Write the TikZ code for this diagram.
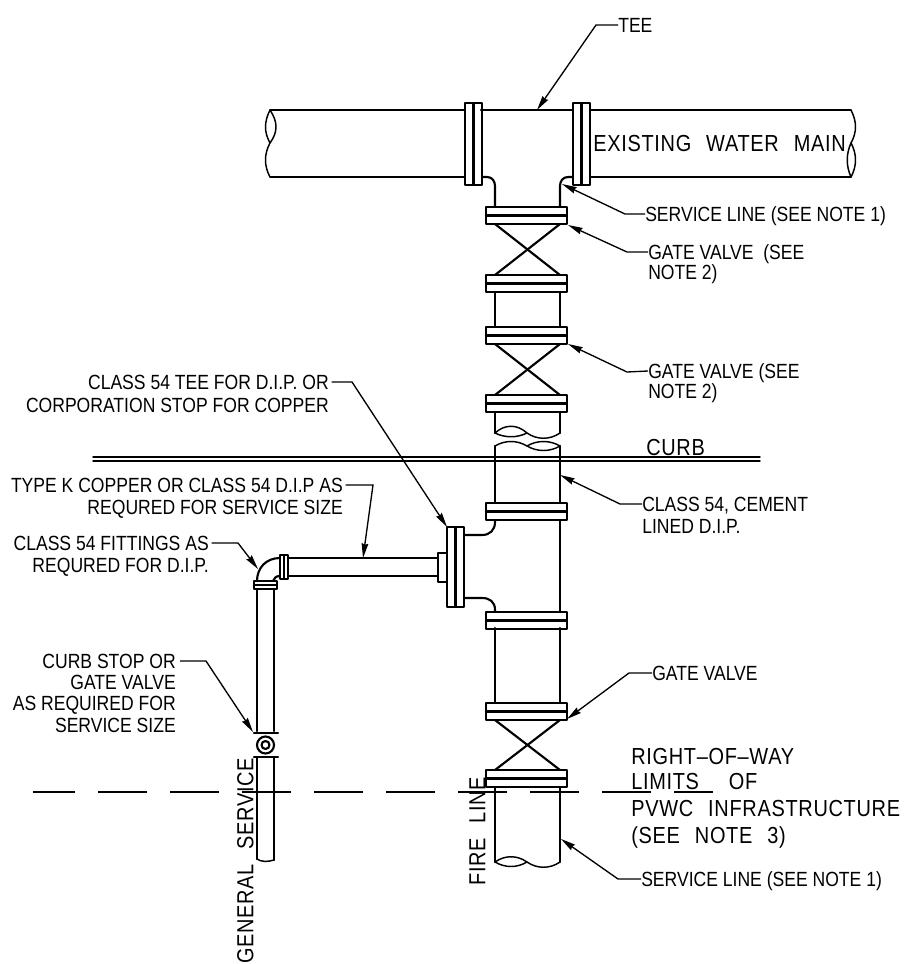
\documentclass[tikz,border=0pt]{standalone}
\usepackage{fontspec}
\usetikzlibrary{arrows.meta}
\setmainfont[FakeStretch=0.855]{Liberation Sans}
\newfontfamily\cadfont[FakeStretch=0.86,LetterSpace=3,WordSpace=2.4]{Liberation Sans}

\tikzset{
  pipe/.style={line width=1.6pt, line cap=round, line join=round},
  thin pipe/.style={line width=1.1pt, line cap=round},
  leader/.style={line width=1pt, -{Stealth[length=11pt,width=5pt,inset=1pt]}},
  note/.style={inner sep=0pt, font=\fontsize{15.4}{18}\selectfont, text height=11pt, text depth=0pt},
  cad/.style={inner sep=0pt, font=\cadfont\fontsize{17.4}{20}\selectfont, text height=12.6pt, text depth=0pt},
}

\begin{document}
\begin{tikzpicture}[x=0.75pt,y=-0.75pt]
\useasboundingbox (0,0) rectangle (909,964);

% water main
\begin{scope}
\draw[thin pipe] (270,110)--(465,110);
\draw[thin pipe] (270,177)--(465,177);
\draw[thin pipe] (590,110)--(851,110);
\draw[thin pipe] (590,177)--(851,177);
\draw[pipe] (481,110)--(573,110);

\draw[thin pipe] (270,110) .. controls (278,122) and (278,132) .. (270,143) .. controls (264,154) and (264,166) .. (270,177);
\draw[thin pipe] (270,110) .. controls (264,122) and (264,132) .. (270,143);
\draw[thin pipe] (851,110) .. controls (857,122) and (857,132) .. (851,143) .. controls (846,154) and (846,166) .. (851,177);
\draw[thin pipe] (851,143) .. controls (857,154) and (857,166) .. (851,177);

\draw[pipe] (465,103) rectangle (482,185);
\draw[pipe] (473.5,103)--(473.5,185);
\draw[pipe] (573,103) rectangle (590,185);
\draw[pipe] (581.5,103)--(581.5,185);

\draw[pipe] (482,177)--(487,177) .. controls (492,177) and (495,181) .. (495,186)--(495,207);
\draw[pipe] (573,177)--(568,177) .. controls (563,177) and (560,181) .. (560,186)--(560,207);
\end{scope}

% flanges on the fire line
\foreach \y in {207,275,327,395,503,612,703,770}
{
\draw[pipe] (486,\y) rectangle (567,\y+17);
\draw[pipe] (486,\y+8.5)--(567,\y+8.5);
}

% gate valves
\foreach \y/\z in {224/275,344/395,720/770}
{
\draw[pipe] (495,\y)--(560,\z);
\draw[pipe] (560,\y)--(495,\z);
}

% fire line
\draw[pipe] (495,292)--(495,327);
\draw[pipe] (560,292)--(560,327);
\draw[pipe] (495,412)--(495,433);
\draw[pipe] (560,412)--(560,433);
\draw[thin pipe] (495,433) .. controls (505,424) and (517,424) .. (527,433) .. controls (537,440) and (550,440) .. (560,433);
\draw[thin pipe] (495,433) .. controls (505,438) and (517,438) .. (527,433);

\draw[pipe] (495,446)--(495,503);
\draw[pipe] (560,446)--(560,503);
\draw[thin pipe] (495,446) .. controls (505,440) and (517,440) .. (527,446) .. controls (537,452) and (550,452) .. (560,446);
\draw[thin pipe] (527,446) .. controls (537,440) and (550,440) .. (560,446);

\draw[pipe] (560,520)--(560,612);
\draw[pipe] (495,520)--(495,522) .. controls (495,530) and (490,535) .. (482,535)--(464,535);
\draw[pipe] (495,612)--(495,610) .. controls (495,602) and (490,598) .. (482,598)--(464,598);
\draw[pipe] (495,628)--(495,703);
\draw[pipe] (560,628)--(560,703);
\draw[pipe] (495,787)--(495,862);
\draw[pipe] (560,787)--(560,862);
\draw[thin pipe] (495,862) .. controls (505,855) and (517,855) .. (527,862) .. controls (537,869) and (550,869) .. (560,862);
\draw[thin pipe] (495,862) .. controls (505,868) and (517,868) .. (527,862);

% curb and right of way
\draw[thin pipe] (93,457)--(760,457);
\draw[thin pipe] (93,461)--(760,461);
\draw[pipe, dash pattern=on 36.75pt off 17.25pt, dash phase=5.25pt, line cap=butt] (33,792)--(713,792);

% general service
\begin{scope}
\draw[pipe] (447,527) rectangle (464,607);
\draw[pipe] (455.5,527)--(455.5,607);
\draw[pipe] (438,553) rectangle (447,582);
\draw[pipe] (288,558)--(438,558);
\draw[pipe] (288,576)--(438,576);
\draw[pipe] (280,555) rectangle (288,579);
\draw[pipe] (284,555)--(284,579);

\draw[pipe] (280,558) .. controls (266,558) and (257,568) .. (257,581);
\draw[pipe] (280,576) .. controls (276,576) and (274,578) .. (273,581);
\draw[pipe] (254,581) rectangle (277,589);
\draw[pipe] (254,585)--(277,585);

\draw[pipe] (257,589)--(257,731);
\draw[pipe] (274,589)--(274,731);
\draw[pipe] (254,733)--(278,733);

\draw[pipe] (265.5,745) circle (8.5);
\draw[pipe] (265.5,745) circle (4);

\draw[pipe] (254,757)--(278,757);
\draw[pipe] (257,757)--(257,859);
\draw[pipe] (274,757)--(274,860);
\draw[thin pipe] (257,859) .. controls (261,862) and (268,862) .. (274,860);
\end{scope}

% notes on the right
\node[note, anchor=west] (tee) at (618,25) {TEE};
\coordinate (teetip) at (537,110);
\draw[leader] (tee.west)--(596,25)--(teetip);

\node[note, anchor=west] (svcupper) at (645,214) {SERVICE LINE (SEE NOTE 1)};
\coordinate (svcuppertip) at (562,184);
\draw[leader] (svcupper.west)--(625,214)--(svcuppertip);

\node[note, anchor=west] (gateone) at (648,252) {GATE VALVE \ (SEE};
\node[note, anchor=west] (gateoneb) at (648,272) {NOTE 2)};
\coordinate (gateonetip) at (568,225);
\draw[leader] (gateone.west)--(627,252)--(gateonetip);

\node[note, anchor=west] (gatetwo) at (648,371) {GATE VALVE (SEE};
\node[note, anchor=west] (gatetwob) at (648,391) {NOTE 2)};
\coordinate (gatetwotip) at (568,344);
\draw[leader] (gatetwo.west)--(627,372)--(gatetwotip);

\node[note, anchor=west] (cement) at (642,504) {CLASS 54, CEMENT};
\node[note, anchor=west] (cementb) at (642,526) {LINED D.I.P.};
\coordinate (cementtip) at (560,475);
\draw[leader] (cement.west)--(620,504)--(cementtip);

\node[note, anchor=west] (gatethree) at (652,673) {GATE VALVE};
\coordinate (gatethreetip) at (567,719);
\draw[leader] (gatethree.west)--(629,673)--(gatethreetip);

\node[note, anchor=west] (svclower) at (641,879) {SERVICE LINE (SEE NOTE 1)};
\coordinate (svclowertip) at (561,839);
\draw[leader] (svclower.west)--(618,879)--(svclowertip);

% notes on the left
\node[note, anchor=east] (tclass) at (329,382) {CLASS 54 TEE FOR D.I.P. OR};
\node[note, anchor=east] (tclassb) at (329,405) {CORPORATION STOP FOR COPPER};
\coordinate (tclasstip) at (447,527);
\draw[leader] ([xshift=2pt]tclass.east)--(352,382)--(tclasstip);

\node[note, anchor=east] (copper) at (343,485) {TYPE K COPPER OR CLASS 54 D.I.P AS};
\node[note, anchor=east] (copperb) at (343,507) {REQURED FOR SERVICE SIZE};
\coordinate (coppertip) at (363,558);
\draw[leader] ([xshift=2pt]copper.east)--(373,485)--(coppertip);

\node[note, anchor=east] (fittings) at (209,543) {CLASS 54 FITTINGS AS};
\node[note, anchor=east] (fittingsb) at (209,565) {REQURED FOR D.I.P.};
\coordinate (fittingstip) at (258,569);
\draw[leader] ([xshift=2pt]fittings.east)--(238,543)--(fittingstip);

\node[note, anchor=east] (stop) at (176,661) {CURB STOP OR};
\node[note, anchor=east] (stopb) at (176,682) {GATE VALVE};
\node[note, anchor=east] (stopc) at (176,703) {AS REQUIRED FOR};
\node[note, anchor=east] (stopd) at (176,725) {SERVICE SIZE};
\coordinate (stoptip) at (253,732);
\draw[leader] ([xshift=3pt]stop.east)--(206,661)--(stoptip);

% large lettering
\node[cad, anchor=west] (mainlabel) at (593,143) {EXISTING WATER MAIN};
\node[cad, anchor=west] (curblabel) at (646,447) {CURB};
\node[cad, anchor=west] (rowa) at (631,756) {RIGHT–OF–WAY};
\node[cad, anchor=west] (rowb) at (631,781) {LIMITS \ OF};
\node[cad, anchor=west] (rowc) at (631,808) {PVWC INFRASTRUCTURE};
\node[cad, anchor=west] (rowd) at (631,835) {(SEE NOTE 3)};
\node[cad, rotate=90, anchor=west] (genlabel) at (245,964) {GENERAL SERVICE};
\node[cad, rotate=90, anchor=west] (firelabel) at (477,886) {FIRE LINE};

\end{tikzpicture}
\end{document}
